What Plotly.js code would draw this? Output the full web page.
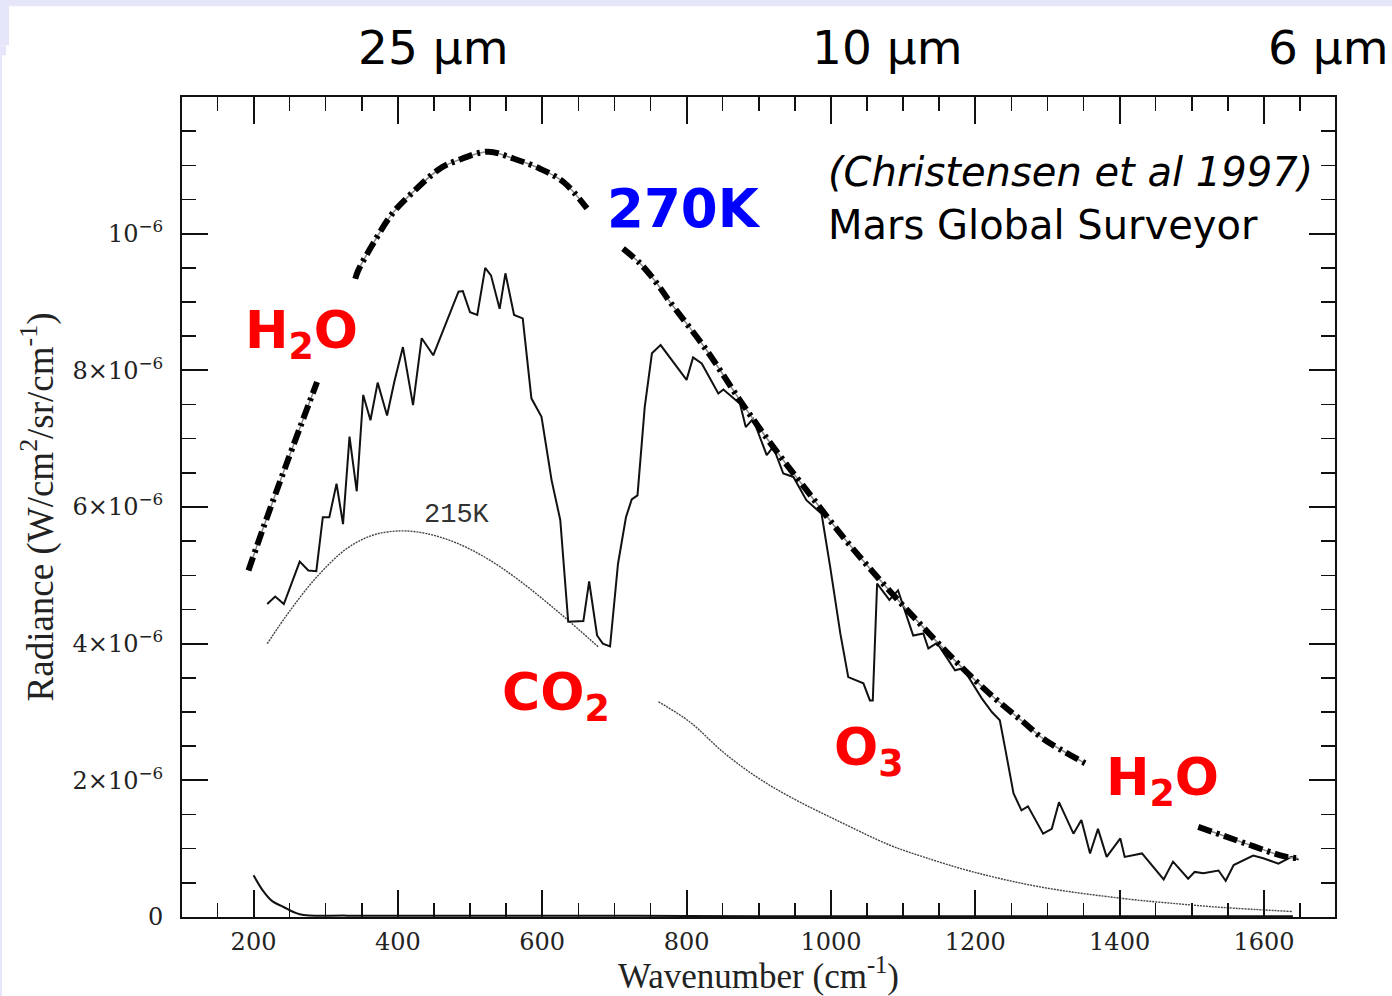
<!DOCTYPE html>
<html>
<head>
<meta charset="utf-8">
<script src="https://cdn.plot.ly/plotly-3.0.1.min.js"></script>
<style>
  html, body { margin: 0; padding: 0; background: #ffffff; }
  #chart { width: 1392px; height: 996px; }
</style>
</head>
<body>
<div id="chart"></div>
<script>
// Radiance values are stored in units of 1e-6 W/cm^2/sr/cm^-1
const UNIT = 1e-6;

// Measured Mars Global Surveyor (TES) spectrum
const specX = [219,230,242,264,276,287,296,305,315,324,333,343,352,362,372,385,395,407,421,433,449,484,490,500,510,521,529,541,549,561,573,585,599,613,625,636,657,665,676,684,694,705,716,724,732,742,752,764,800,809,821,844,851,874,882,892,911,920,934,948,966,987,999,1013,1024,1045,1054,1058,1064,1081,1093,1114,1128,1135,1147,1156,1172,1183,1209,1223,1234,1241,1253,1264,1273,1294,1306,1316,1336,1347,1359,1370,1382,1401,1407,1431,1461,1474,1495,1504,1516,1537,1547,1558,1585,1599,1620,1638,1648];
const specY = [4.58,4.69,4.58,5.20,5.07,5.06,5.85,5.85,6.34,5.75,7.03,6.23,7.64,7.27,7.82,7.34,7.83,8.34,7.49,8.47,8.22,9.15,9.16,8.85,8.81,9.50,9.39,8.90,9.42,8.81,8.76,7.59,7.32,6.39,5.81,4.32,4.33,4.91,4.12,4.00,3.96,5.17,5.85,6.11,6.17,7.46,8.25,8.37,7.86,8.19,8.10,7.66,7.72,7.51,7.17,7.29,6.76,6.88,6.49,6.44,6.10,5.90,5.12,4.15,3.51,3.42,3.17,3.17,4.88,4.64,4.78,4.12,4.15,3.93,4.01,3.86,3.61,3.64,3.20,3.00,2.88,2.49,1.81,1.56,1.62,1.22,1.29,1.68,1.22,1.42,0.93,1.29,0.88,1.15,0.88,0.93,0.55,0.81,0.56,0.66,0.64,0.68,0.53,0.76,0.90,0.86,0.78,0.88,0.84];

// 270K reference curve (gaps where labels sit)
const bb270X = [193,214,246,288,null,341,345,366,392,421,458,482,525,560,597,629,662,null,712,736,759,775,828,874,920,966,1017,1068,1119,1174,1225,1267,1294,1352,null,1509,1576,1627,1647];
const bb270Y = [5.07,5.71,6.64,7.83,null,9.34,9.46,9.86,10.29,10.61,10.95,11.07,11.20,11.10,10.95,10.76,10.37,null,9.78,9.56,9.27,9.03,8.29,7.56,6.88,6.25,5.56,4.93,4.34,3.73,3.22,2.85,2.61,2.25,null,1.32,1.07,0.89,0.86];

// 215K reference curve
const bb215X = [219,251,288,329,366,403,440,482,523,565,625,678,null,761,805,851,897,943,1013,1082,1128,1197,1290,1405,1484,1542,1639];
const bb215Y = [4.00,4.49,4.98,5.39,5.59,5.65,5.61,5.47,5.25,4.95,4.44,3.95,null,3.15,2.85,2.41,2.05,1.76,1.39,1.05,0.88,0.66,0.44,0.27,0.19,0.14,0.08];

// Low curve along the bottom axis
const lowX = [200,214,225,241,264,330,450,600,800,1000,1200,1400,1640];
const lowY = [0.61,0.37,0.24,0.15,0.04,0.02,0.02,0.02,0.015,0.01,0.01,0.01,0.01];

// Axis ticks
const xTicks = [200,400,600,800,1000,1200,1400,1600];
const yTickVals = [0,2,4,6,8,10];
const yTickText = ["0","2×10<sup>−6</sup>","4×10<sup>−6</sup>","6×10<sup>−6</sup>","8×10<sup>−6</sup>","10<sup>−6</sup>"];

// Wavelength labels on top
const waveLabels = ["25 µm","10 µm","6 µm"];

const sc = a => a.map(v => v === null ? null : v * UNIT);

const traces = [
  {x: bb215X, y: sc(bb215Y), mode: 'lines', line: {color: '#444', width: 1.4, dash: '2px,1px', shape: 'spline'}},
  {x: lowX, y: sc(lowY), mode: 'lines', line: {color: '#111', width: 2, shape: 'spline'}},
  {x: specX, y: sc(specY), mode: 'lines', line: {color: '#111', width: 2}},
  {x: bb270X, y: sc(bb270Y), mode: 'lines', line: {color: '#888', width: 1.5, shape: 'spline'}},
  {x: bb270X, y: sc(bb270Y), mode: 'lines', line: {color: '#000', width: 6, dash: '14px,5px,3px,5px', shape: 'spline'}}
];

const serif = 'DejaVu Serif, serif';
const sans = 'DejaVu Sans, sans-serif';
const red = '#ff0000';

const annotations = [
  {xref:'x', yref:'paper', x: 449, y: 1.06, text: waveLabels[0], showarrow:false, xanchor:'center', yanchor:'middle', font:{family:sans, size:47, color:'#000'}},
  {xref:'x', yref:'paper', x: 1078, y: 1.06, text: waveLabels[1], showarrow:false, xanchor:'center', yanchor:'middle', font:{family:sans, size:47, color:'#000'}},
  {xref:'x', yref:'paper', x: 1690, y: 1.06, text: waveLabels[2], showarrow:false, xanchor:'center', yanchor:'middle', font:{family:sans, size:47, color:'#000'}},
  {xref:'x', yref:'y', x: 993, y: 10.90*UNIT, text: '<i>(Christensen et al 1997)</i>', showarrow:false, xanchor:'left', yanchor:'middle', font:{family:sans, size:40, color:'#000'}},
  {xref:'x', yref:'y', x: 993, y: 10.12*UNIT, text: 'Mars Global Surveyor', showarrow:false, xanchor:'left', yanchor:'middle', font:{family:sans, size:40, color:'#000'}},
  {xref:'x', yref:'y', x: 687, y: 10.37*UNIT, text: '<b>270K</b>', showarrow:false, xanchor:'left', yanchor:'middle', font:{family:sans, size:53, color:'#0000ff'}},
  {xref:'x', yref:'y', x: 186, y: 9.06*UNIT, text: '<b>H<sub>2</sub>O</b>', showarrow:false, xanchor:'left', yanchor:'top', font:{family:sans, size:52, color:red}},
  {xref:'x', yref:'y', x: 541, y: 3.76*UNIT, text: '<b>CO<sub>2</sub></b>', showarrow:false, xanchor:'left', yanchor:'top', font:{family:sans, size:52, color:red}},
  {xref:'x', yref:'y', x: 1001, y: 2.95*UNIT, text: '<b>O<sub>3</sub></b>', showarrow:false, xanchor:'left', yanchor:'top', font:{family:sans, size:52, color:red}},
  {xref:'x', yref:'y', x: 1378, y: 2.51*UNIT, text: '<b>H<sub>2</sub>O</b>', showarrow:false, xanchor:'left', yanchor:'top', font:{family:sans, size:52, color:red}},
  {xref:'x', yref:'y', x: 482, y: 5.89*UNIT, text: '215K', showarrow:false, xanchor:'center', yanchor:'middle', font:{family:'Liberation Mono, monospace', size:27, color:'#333'}}
];

const lav = '#e6e6fa';
const shapes = [
  {type:'rect', xref:'paper', yref:'paper', x0:-0.16, x1:1.06, y0:1.1106, y1:1.14, fillcolor:lav, line:{width:0}},
  {type:'rect', xref:'paper', yref:'paper', x0:-0.16, x1:-0.150, y0:1.063, y1:1.14, fillcolor:lav, line:{width:0}},
  {type:'rect', xref:'paper', yref:'paper', x0:-0.16, x1:-0.1526, y0:1.0508, y1:1.063, fillcolor:lav, line:{width:0}},
  {type:'rect', xref:'paper', yref:'paper', x0:-0.16, x1:-0.1561, y0:-0.2, y1:1.0508, fillcolor:lav, line:{width:0}}
];

const layout = {
  width: 1392, height: 996,
  margin: {l: 182, r: 57, t: 97, b: 79},
  paper_bgcolor: '#ffffff', plot_bgcolor: '#ffffff',
  showlegend: false,
  xaxis: {
    range: [100.9, 1698.4],
    showline: true, linecolor: '#111', linewidth: 2, mirror: 'allticks',
    ticks: 'inside', ticklen: 27, tickwidth: 2, tickcolor: '#111',
    tickmode: 'array', tickvals: xTicks,
    tickfont: {family: serif, size: 24, color: '#222'},
    ticklabelstandoff: 2,
    minor: {ticks: 'inside', ticklen: 14, tickwidth: 1.5, tickcolor: '#111', dtick: 50, tick0: 0, showgrid: false},
    showgrid: false, zeroline: false,
    title: {text: 'Wavenumber (cm<sup>-1</sup>)', font: {family: 'Liberation Serif, serif', size: 35, color: '#222'}, standoff: 0}
  },
  yaxis: {
    range: [0, 12e-6],
    showline: true, linecolor: '#111', linewidth: 2, mirror: 'allticks',
    ticks: 'inside', ticklen: 26, tickwidth: 2, tickcolor: '#111',
    tickmode: 'array', tickvals: yTickVals.map(v => v * UNIT), ticktext: yTickText,
    tickfont: {family: serif, size: 24, color: '#222'},
    ticklabelstandoff: 12,
    minor: {ticks: 'inside', ticklen: 14, tickwidth: 1.5, tickcolor: '#111', dtick: 0.5e-6, tick0: 0, showgrid: false},
    showgrid: false, zeroline: false,
    title: {text: 'Radiance (W/cm<sup>2</sup>/sr/cm<sup>-1</sup>)', font: {family: 'Liberation Serif, serif', size: 37, color: '#222'}, standoff: 8}
  },
  annotations: annotations,
  shapes: shapes
};

Plotly.newPlot('chart', traces, layout, {displayModeBar: false, staticPlot: true});
</script>
</body>
</html>
